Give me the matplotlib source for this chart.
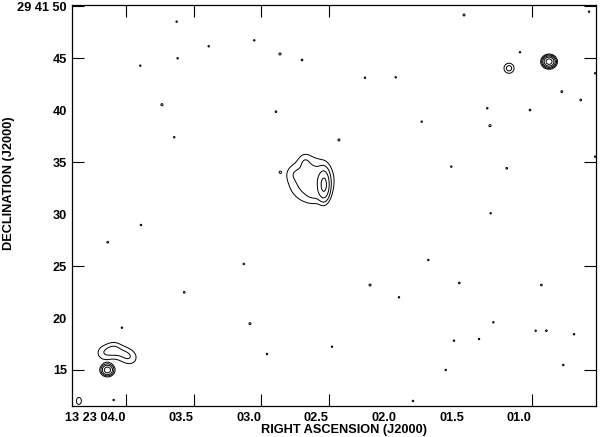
import numpy as np
import matplotlib
matplotlib.use("Agg")
import matplotlib.pyplot as plt
from matplotlib.patches import Ellipse

# positions are RA seconds after 13h23m00s and Dec arcsec after +29d41m00s
src_ra = [0.871, 1.167, 4.137, 4.163, 4.089, 4.015, 3.963, 2.632, 2.535, 2.676, 2.600, 2.760]
src_dec = [44.69, 44.05, 15.00, 16.64, 16.93, 16.54, 16.16, 33.29, 32.81, 35.10, 31.90, 33.90]
src_peak = [24.0, 2.6, 12.0, 1.6, 2.1, 1.5, 1.3, 3.2, 8.0, 0.9, 0.7, 0.6]
src_sx = [0.32, 0.35, 0.33, 0.55, 0.55, 0.55, 0.55, 1.40, 0.33, 0.4, 0.6, 0.5]
src_sy = [0.29, 0.35, 0.30, 0.55, 0.55, 0.55, 0.55, 1.40, 0.85, 0.5, 0.5, 0.5]

spk_ra = [3.625, 3.388, 3.051, 2.861, 2.698, 3.618, 3.894, 3.734, 2.891, 3.643,
          2.859, 1.500, 0.575, 1.086, 2.232, 2.005, 0.777, 0.637, 1.328, 1.012,
          1.813, 1.308, 2.425, 1.594, 1.184, 0.530, 0.530, 3.889, 4.135, 3.129,
          3.569, 3.083, 4.030, 2.957, 2.476, 4.091, 1.303, 1.764, 2.195, 1.981,
          1.535, 0.928, 1.283, 0.970, 0.891, 0.686, 1.574, 1.389, 0.766, 1.635,
          1.877]
spk_dec = [48.54, 46.17, 46.74, 45.43, 44.85, 45.01, 44.30, 40.54, 39.87, 37.41,
           34.04, 49.18, 49.50, 45.59, 43.14, 43.18, 41.80, 41.00, 40.20, 40.03,
           38.91, 38.52, 37.15, 34.58, 34.42, 43.57, 35.54, 28.96, 27.30, 25.21,
           22.48, 19.46, 19.07, 16.54, 17.24, 12.11, 30.09, 25.59, 23.18, 22.00,
           23.38, 23.18, 19.59, 18.78, 18.78, 18.44, 17.82, 17.98, 15.48, 15.00,
           12.02]
spk_peak = [1.3, 1.3, 1.3, 1.7, 1.4, 1.3, 1.3, 1.7, 1.4, 1.3,
            1.3, 1.6, 1.3, 1.3, 1.3, 1.3, 1.5, 1.4, 1.3, 1.4,
            1.3, 1.7, 1.6, 1.3, 1.4, 1.3, 1.3, 1.3, 1.4, 1.3,
            1.4, 1.6, 1.3, 1.3, 1.3, 1.3, 1.3, 1.3, 1.6, 1.3,
            1.4, 1.4, 1.3, 1.3, 1.4, 1.3, 1.3, 1.3, 1.3, 1.3,
            1.3]

levels = [1, 2, 4, 8, 16]

ra_ticks = [4.0, 3.5, 3.0, 2.5, 2.0, 1.5, 1.0]
ra_labels = ["13 23 04.0", "03.5", "03.0", "02.5", "02.0", "01.5", "01.0"]
dec_ticks = [50, 45, 40, 35, 30, 25, 20, 15]
dec_labels = ["29 41 50", "45", "40", "35", "30", "25", "20", "15"]

beam_ra, beam_dec, beam_w, beam_h = 4.348, 12.02, 0.037, 0.67

ARCSEC_PER_S = 13.03


def make_map():
    ra = np.linspace(4.45, 0.48, 1400)
    dec = np.linspace(11.0, 51.0, 1050)
    RA, DEC = np.meshgrid(ra, dec)
    img = np.zeros_like(RA)
    for r, d, p, sx, sy in zip(src_ra, src_dec, src_peak, src_sx, src_sy):
        dx = (RA - r) * ARCSEC_PER_S
        dy = DEC - d
        img += p * np.exp(-0.5 * ((dx / sx) ** 2 + (dy / sy) ** 2))
    for r, d, p in zip(spk_ra, spk_dec, spk_peak):
        dx = (RA - r) * ARCSEC_PER_S
        dy = DEC - d
        img += p * np.exp(-0.5 * (dx ** 2 + dy ** 2) / 0.1 ** 2)
    return ra, dec, img


def plot_map():
    plt.rcParams['font.family'] = ['Liberation Sans', 'DejaVu Sans']
    fig = plt.figure(figsize=(6.0, 4.37), dpi=100)
    ax = fig.add_axes([0.12, 0.0709, 0.8733, 0.9176])

    ra, dec, img = make_map()
    ax.contour(ra, dec, img, levels=levels, colors="black", linewidths=0.7)
    ax.add_patch(Ellipse((beam_ra, beam_dec), beam_w, beam_h,
                         fill=False, edgecolor="black", linewidth=0.7))

    ax.set_xlim(4.399, 0.524)
    ax.set_ylim(11.53, 50.14)
    ax.set_xticks(ra_ticks, labels=ra_labels)
    ax.set_yticks(dec_ticks, labels=dec_labels)
    for lab in ax.get_xticklabels():
        lab.set_horizontalalignment("right")
    ax.tick_params(direction="in", length=8.6, width=0.8, top=True, right=True,
                   labelsize=9.2)
    ax.tick_params(axis="x", pad=4.5)
    ax.tick_params(axis="y", pad=3.6)
    for lab in ax.get_xticklabels() + ax.get_yticklabels():
        lab.set_fontweight("bold")
    # these tick marks are not drawn in the reference
    for t in [ax.xaxis.get_major_ticks()[i] for i in (4, 5)] + \
             [ax.yaxis.get_major_ticks()[i] for i in (2, 4, 6)]:
        t.tick1line.set_visible(False)
        t.tick2line.set_visible(False)
    for s in ax.spines.values():
        s.set_linewidth(0.9)

    ax.set_xlabel("RIGHT ASCENSION (J2000)", fontsize=9.2, fontweight="bold")
    ax.set_ylabel("DECLINATION (J2000)", fontsize=9.2, fontweight="bold")
    ax.xaxis.set_label_coords(0.519, -0.045)
    ax.yaxis.set_label_coords(-0.108, 0.556)

    fig.savefig("out.png", dpi=100)


if __name__ == "__main__":
    plot_map()
